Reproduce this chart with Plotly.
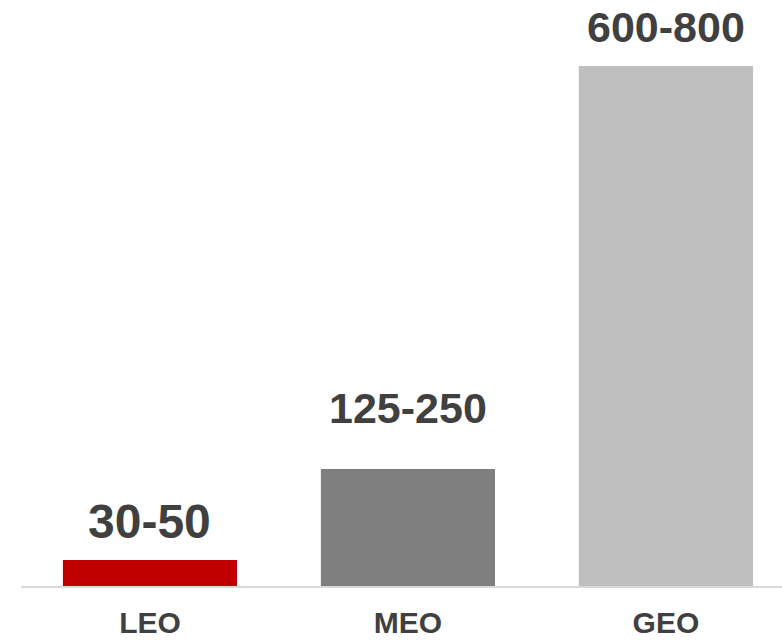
import plotly.graph_objects as go

# Orbit classes and representative values (km-scale figures)
orbits = ["LEO", "MEO", "GEO"]
values = [30, 135, 600]
range_labels = ["30-50", "125-250", "600-800"]
bar_colors = ["#C00000", "#7F7F7F", "#BFBFBF"]

# Per-label typography / offsets above bar tops
label_sizes = [48, 43, 43]
label_shifts = [38, 61, 39]

TEXT_COLOR = "#404040"
FONT = "Liberation Sans, Arial, sans-serif"

fig = go.Figure(
    go.Bar(
        x=orbits,
        y=values,
        marker=dict(color=bar_colors, line=dict(width=0)),
        width=0.675,
        hoverinfo="skip",
    )
)

for name, val, lab, size, shift in zip(orbits, values, range_labels, label_sizes, label_shifts):
    fig.add_annotation(
        x=name,
        y=val,
        text=f"<b>{lab}</b>",
        showarrow=False,
        yanchor="middle",
        yshift=shift,
        font=dict(family=FONT, size=size, color=TEXT_COLOR),
    )

fig.update_layout(
    width=782,
    height=641,
    margin=dict(l=21, r=0, t=0, b=55),
    paper_bgcolor="white",
    plot_bgcolor="white",
    showlegend=False,
    xaxis=dict(
        type="category",
        range=[-0.5, 2.45],
        automargin=False,
        showline=True,
        linecolor="#D9D9D9",
        linewidth=2,
        showgrid=False,
        ticks="",
        ticklabelstandoff=9,
        tickfont=dict(family=FONT, size=30, color=TEXT_COLOR),
        tickvals=orbits,
        ticktext=[f"<b>{o}</b>" for o in orbits],
        fixedrange=True,
    ),
    yaxis=dict(
        range=[0, 676],
        visible=False,
        showgrid=False,
        zeroline=False,
        fixedrange=True,
    ),
)

fig.write_html("out.html")
